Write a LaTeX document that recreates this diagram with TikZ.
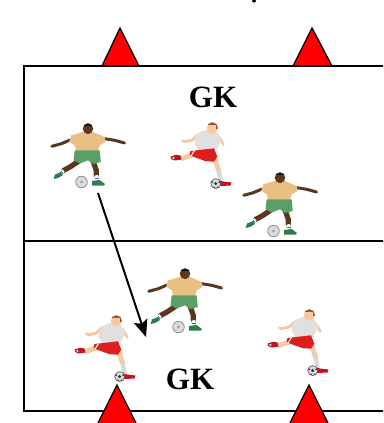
\documentclass[tikz,border=0pt]{standalone}
\usepackage{fontspec}
\setmainfont{Liberation Serif}
\usetikzlibrary{arrows.meta}
\definecolor{skinD}{HTML}{5A3820}
\definecolor{hairD}{HTML}{151515}
\definecolor{shirtT}{HTML}{E8C084}
\definecolor{shortsG}{HTML}{5C9E68}
\definecolor{shoeG}{HTML}{2F7D4A}
\definecolor{ballL}{HTML}{DADADA}
\definecolor{skinW}{HTML}{F7C8A2}
\definecolor{hairW}{HTML}{9A5528}
\definecolor{shirtW}{HTML}{E0E0E0}
\definecolor{shortsR}{HTML}{DC1E1E}
\definecolor{shoeR}{HTML}{C0141E}
\definecolor{sockW}{HTML}{D8D8D8}
\definecolor{coneR}{HTML}{FF0000}
\tikzset{
  field/.style={line width=1.6pt, draw=black},
  cone/.style={fill=coneR, draw=black, line width=1.3pt, line join=miter},
  gk/.style={font=\fontsize{31}{31}\selectfont\bfseries, anchor=base, inner sep=0pt},
  pass/.style={line width=1.9pt, -{Stealth[length=17pt,width=14pt,inset=3pt]}},
  limb/.style={line cap=round, line join=round},
  darkplayer/.pic={
    % arms
    \draw[skinD, limb, line width=3pt] (20,17) -- (11.3,20.7) -- (1.8,23.3);
    \draw[skinD, limb, line width=3pt] (54.7,15.7) -- (64.7,17.3) -- (74.5,20);
    % legs
    \draw[skinD, limb, line width=5.2pt] (29,38) -- (20,44) -- (13.5,47.5);
    \draw[skinD, limb, line width=5.2pt] (43,38) -- (46.3,47.3) -- (46.3,52.3);
    % neck
    \fill[skinD] (35,8) rectangle (41,12);
    % shirt
    \fill[shirtT] (21.3,12.3) -- (33,9) -- (38,11) -- (43,9) -- (54.7,14) -- (55.5,19) -- (49.7,22.3) -- (48,28) -- (26.3,29) -- (24.7,22.3) -- (19.2,18.5) -- cycle;
    % shorts
    \fill[shortsG] (24.7,27.3) -- (49.7,27.3) -- (50.8,39) -- (43,41) -- (38,37.3) -- (29.7,40.5) -- (23.5,37.3) -- cycle;
    % head
    \fill[skinD] (38,5.7) circle (5.3);
    \begin{scope}
      \clip (38,5.7) circle (5.3);
      \fill[hairD] (30,-2) rectangle (46,3.2);
    \end{scope}
    % socks
    \draw[white, line width=3.6pt] (13.5,47.5) -- (9.8,50.5);
    \draw[white, line width=3.6pt] (46.3,52.3) -- (47.3,57.5);
    \draw[blue!70, line width=0.8pt] (11,48.3) -- (13,50.5);
    \draw[blue!70, line width=0.8pt] (44.7,55) -- (48.7,55);
    % shoes
    \fill[shoeG] (3.5,56) -- (5,51.5) -- (11,49) -- (13,52) -- (8,55) -- cycle;
    \fill[shoeG] (42,58) -- (49.5,57) -- (55,61) -- (53.5,62.5) -- (42,62.5) -- cycle;
    % ball
    \draw[gray, fill=ballL, line width=0.6pt] (31.5,59) circle (5.8);
    \fill[gray!80] (31.5,59) circle (1.4);
  },
  whiteplayer/.pic={
    % back leg
    \draw[skinW, limb, line width=5pt] (22.3,35) -- (12.3,38.3);
    \draw[sockW, line width=4pt] (12.3,38.3) -- (9,37.7);
    \fill[shoeR] (0.7,36.5) -- (6,34.8) -- (10.5,35.5) -- (11.5,39.5) -- (5,40.5) -- (1,39) -- cycle;
    \fill[white] (1.5,38) -- (4,37) -- (4.5,38.8) -- cycle;
    % front leg
    \draw[skinW, limb, line width=5pt] (45,39) -- (48.5,50);
    \draw[sockW, line width=4.4pt] (48.5,50) -- (50.5,60.5);
    \fill[shoeR] (48.5,60) -- (53,61.5) -- (61.5,62.5) -- (60.5,65.5) -- (50.5,66) -- (48,63.5) -- cycle;
    % arms
    \draw[skinW, limb, line width=2.8pt] (27.3,15) -- (22.3,20) -- (14.5,21.7);
    \draw[skinW, limb, line width=2.4pt] (12.2,20.5) -- (14.5,21.7);
    \draw[skinW, limb, line width=2.8pt] (49,16.7) -- (53.3,24.5);
    % shirt
    \fill[shirtW] (26,14) -- (35.5,10) -- (46.5,11.3) -- (51.5,19) -- (49,24.5) -- (46,30.5) -- (29,31.7) -- (24.5,23.3) -- cycle;
    % shorts
    \fill[shortsR] (20.5,31) -- (44,28.3) -- (47.3,36.7) -- (44,41.7) -- (35.7,41.2) -- (24,37) -- (19.5,34.5) -- cycle;
    \draw[white, line width=1pt] (24.5,30.5) -- (21,36);
    % head
    \fill[skinW] (42.3,7.9) circle (5.6);
    \begin{scope}
      \clip (42.3,7.9) circle (5.6);
      \fill[hairW] (34,0) rectangle (50,5.4);
      \fill[hairW] (45.5,0) rectangle (50,8.5);
    \end{scope}
    % ball
    \draw[gray!70!black, fill=gray!30, line width=0.6pt] (45.7,63.6) circle (5);
    \fill[gray!35!black] (45.7,63.6) circle (1.6);
    \fill[gray!35!black] (42.2,62.3) circle (0.9);
    \fill[gray!35!black] (49.2,62.3) circle (0.9);
    \fill[gray!35!black] (44,67.2) circle (0.8);
    \fill[gray!35!black] (47.6,67.2) circle (0.8);
  }
}
\begin{document}
\begin{tikzpicture}[x=1pt, y=-1pt]
  \useasboundingbox (0,0) rectangle (383,423);
  \clip (0,0) rectangle (383,423);
  \fill[white] (0,0) rectangle (383,423);
  % fragment of clipped text at top
  \fill[black] (254,1) ellipse (2 and 1.5);
  % field
  \draw[field] (390,66) -- (24,66) -- (24,411) -- (390,411);
  \draw[field] (24,241) -- (390,241);
  % cones
  \draw[cone] (102,66) -- (120,28) -- (139,66) -- cycle;
  \draw[cone] (293,66) -- (312,28) -- (332,66) -- cycle;
  \draw[cone] (97,425) -- (117,385) -- (137,425) -- cycle;
  \draw[cone] (289,425) -- (309,385) -- (329,425) -- cycle;
  % goalkeepers
  \node[gk] (gktop) at (213,107) {GK};
  \node[gk] (gkbot) at (190,389) {GK};
  % players
  \pic (p1) at (50,123) {darkplayer};
  \pic (p2) at (170,120) {whiteplayer};
  \pic (p3) at (242,172) {darkplayer};
  \pic (p4) at (147,268) {darkplayer};
  \pic (p5) at (74,313) {whiteplayer};
  \pic (p6) at (267,307) {whiteplayer};
  % pass
  \coordinate (passfrom) at (98,193);
  \coordinate (passto) at (146,337);
  \draw[pass] (passfrom) -- (passto);
\end{tikzpicture}
\end{document}
